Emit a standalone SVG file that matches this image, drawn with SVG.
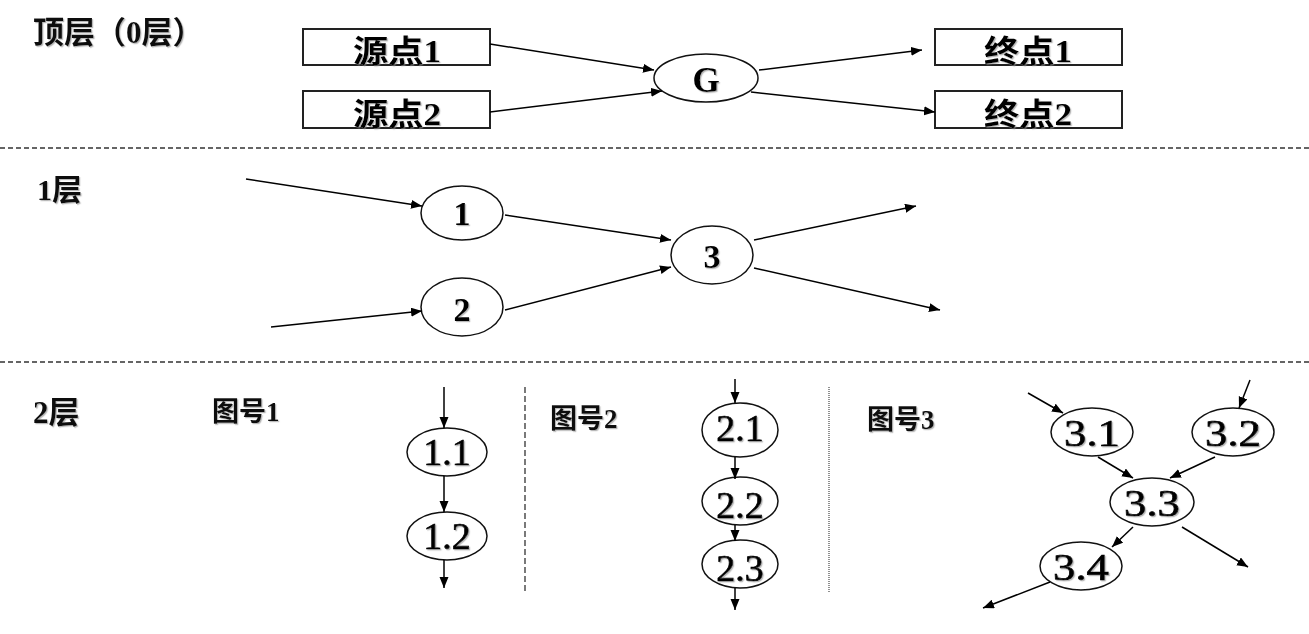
<svg xmlns="http://www.w3.org/2000/svg" width="1309" height="634" viewBox="0 0 1309 634">
<defs>
<marker id="ah" markerUnits="userSpaceOnUse" markerWidth="12" markerHeight="10" refX="11" refY="4.5" orient="auto">
<path d="M0,0 L11,4.5 L0,9 z" fill="#000"/>
</marker>
<filter id="sh" x="-10%" y="-10%" width="130%" height="130%">
<feDropShadow dx="1.2" dy="1.2" stdDeviation="0.4" flood-color="#888" flood-opacity="0.6"/>
</filter>
</defs>
<style>
.bg{fill:#fff}
.lbl{font-family:"Liberation Serif","Noto Sans CJK SC",serif;font-weight:bold;fill:#111;filter:url(#sh)}
.box{fill:#fff;stroke:#222;stroke-width:2}
.node{fill:#fff;stroke:#111;stroke-width:1.5}
.txt{font-family:"Liberation Serif","Noto Sans CJK SC",serif;fill:#000;text-anchor:middle;filter:url(#sh)}
.b{font-weight:bold}
.m{stroke:#000;stroke-width:0.7}
.sep{stroke:#333;stroke-width:1.3;stroke-dasharray:5 3;fill:none}
.vsep{stroke:#333;stroke-width:1.3;stroke-dasharray:6 3;fill:none}
.dot{stroke:#555;stroke-width:1.3;stroke-dasharray:1 1;fill:none}
.c line{stroke:#000;stroke-width:1.5;marker-end:url(#ah)}
</style>
<rect class="bg" x="0" y="0" width="1309" height="634"/>

<g id="separators">
<line class="sep" x1="0" y1="148" x2="1309" y2="148"/>
<line class="sep" x1="0" y1="362" x2="1309" y2="362"/>
<line class="vsep" x1="525" y1="387" x2="525" y2="593"/>
<line class="dot" x1="829" y1="387" x2="829" y2="593"/>
</g>

<g id="labels">
<text class="lbl" x="33" y="43" font-size="31">顶层（0层）</text>
<text class="lbl" x="37" y="200" font-size="30">1层</text>
<text class="lbl" x="33" y="423" font-size="31">2层</text>
<text class="lbl" x="212" y="421" font-size="27">图号1</text>
<text class="lbl" x="550" y="428" font-size="27">图号2</text>
<text class="lbl" x="867" y="429" font-size="27">图号3</text>
</g>

<g id="src1"><rect class="box" x="303" y="29" width="187" height="36"/><text class="txt b" x="397" y="62" font-size="31" textLength="88" lengthAdjust="spacingAndGlyphs">源点1</text></g>
<g id="src2"><rect class="box" x="303" y="91" width="187" height="37"/><text class="txt b" x="397" y="125" font-size="31" textLength="88" lengthAdjust="spacingAndGlyphs">源点2</text></g>
<g id="dst1"><rect class="box" x="935" y="29" width="187" height="36"/><text class="txt b" x="1028" y="62" font-size="31" textLength="88" lengthAdjust="spacingAndGlyphs">终点1</text></g>
<g id="dst2"><rect class="box" x="935" y="91" width="187" height="37"/><text class="txt b" x="1028" y="125" font-size="31" textLength="88" lengthAdjust="spacingAndGlyphs">终点2</text></g>
<g id="G"><ellipse class="node" cx="706" cy="78" rx="52" ry="24"/><text class="txt b" x="706" y="92" font-size="35">G</text></g>

<g id="n1"><ellipse class="node" cx="462" cy="213" rx="41" ry="27"/><text class="txt b" x="462" y="225" font-size="34">1</text></g>
<g id="n2"><ellipse class="node" cx="462" cy="307" rx="41" ry="29"/><text class="txt b" x="462" y="321" font-size="34">2</text></g>
<g id="n3"><ellipse class="node" cx="712" cy="255" rx="41" ry="29"/><text class="txt b" x="712" y="268" font-size="34">3</text></g>

<g id="n1_1"><ellipse class="node" cx="447" cy="452" rx="40" ry="24"/><text class="txt m" x="447" y="465" font-size="38">1.1</text></g>
<g id="n1_2"><ellipse class="node" cx="447" cy="536" rx="40" ry="24"/><text class="txt m" x="447" y="549" font-size="38">1.2</text></g>

<g id="n2_1"><ellipse class="node" cx="740" cy="430" rx="38" ry="27"/><text class="txt m" x="740" y="441" font-size="38">2.1</text></g>
<g id="n2_2"><ellipse class="node" cx="740" cy="501" rx="38" ry="24"/><text class="txt m" x="740" y="518" font-size="38">2.2</text></g>
<g id="n2_3"><ellipse class="node" cx="740" cy="564" rx="38" ry="24"/><text class="txt m" x="740" y="581" font-size="38">2.3</text></g>

<g id="n3_1"><ellipse class="node" cx="1092" cy="432" rx="41" ry="24"/><text class="txt m" x="1092" y="446" font-size="38" textLength="56" lengthAdjust="spacingAndGlyphs">3.1</text></g>
<g id="n3_2"><ellipse class="node" cx="1233" cy="432" rx="41" ry="24"/><text class="txt m" x="1233" y="446" font-size="38" textLength="56" lengthAdjust="spacingAndGlyphs">3.2</text></g>
<g id="n3_3"><ellipse class="node" cx="1152" cy="502" rx="42" ry="24"/><text class="txt m" x="1152" y="516" font-size="38" textLength="56" lengthAdjust="spacingAndGlyphs">3.3</text></g>
<g id="n3_4"><ellipse class="node" cx="1081" cy="566" rx="41" ry="24"/><text class="txt m" x="1081" y="580" font-size="38" textLength="56" lengthAdjust="spacingAndGlyphs">3.4</text></g>

<g id="connectors" class="c">
<line x1="490" y1="44" x2="654" y2="70"/>
<line x1="490" y1="112" x2="662" y2="91"/>
<line x1="759" y1="70" x2="922" y2="50"/>
<line x1="751" y1="92" x2="935" y2="112"/>

<line x1="246" y1="179" x2="422" y2="206"/>
<line x1="271" y1="327" x2="422" y2="311"/>
<line x1="505" y1="215" x2="671" y2="240"/>
<line x1="505" y1="310" x2="671" y2="267"/>
<line x1="754" y1="240" x2="916" y2="206"/>
<line x1="754" y1="268" x2="940" y2="310"/>

<line x1="444" y1="387" x2="444" y2="428"/>
<line x1="444" y1="476" x2="444" y2="512"/>
<line x1="444" y1="560" x2="444" y2="588"/>

<line x1="735" y1="379" x2="735" y2="403"/>
<line x1="735" y1="457" x2="735" y2="479"/>
<line x1="735" y1="525" x2="735" y2="541"/>
<line x1="735" y1="588" x2="735" y2="610"/>

<line x1="1028" y1="393" x2="1063" y2="413"/>
<line x1="1250" y1="380" x2="1239" y2="408"/>
<line x1="1098" y1="457" x2="1133" y2="478"/>
<line x1="1215" y1="457" x2="1170" y2="478"/>
<line x1="1133" y1="527" x2="1112" y2="547"/>
<line x1="1182" y1="527" x2="1248" y2="567"/>
<line x1="1050" y1="582" x2="983" y2="608"/>
</g>
</svg>
